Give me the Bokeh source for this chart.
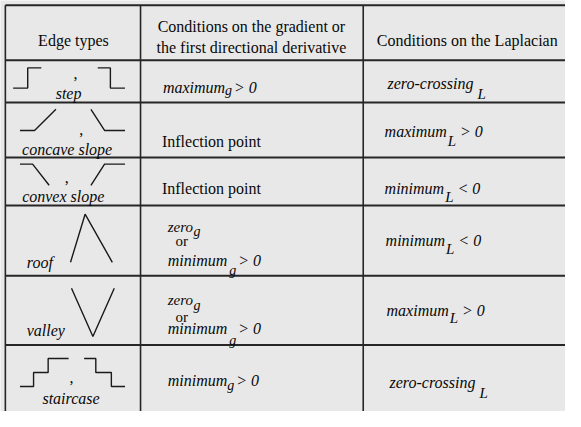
from bokeh.plotting import figure
from bokeh.models import Range1d
from bokeh.embed import file_html
from bokeh.resources import INLINE
from bokeh.core.properties import value

# ---------------- data ----------------
header_edge = "Edge types"
header_gradient = ["Conditions on the gradient or", "the first directional derivative"]
header_laplacian = "Conditions on the Laplacian"

edge_types = ["step", "concave slope", "convex slope", "roof", "valley", "staircase"]
edge_is_pair = [True, True, True, False, False, True]

gradient_alt = ["", "", "", "zero", "zero", ""]
gradient_alt_sub = ["", "", "", "g", "g", ""]
gradient_joiner = "or"
gradient_main = ["maximum", "Inflection point", "Inflection point", "minimum", "minimum", "minimum"]
gradient_sub = ["g", "", "", "g", "g", "g"]
gradient_rel = ["> 0", "", "", "> 0", "> 0", "> 0"]

laplacian_main = ["zero-crossing", "maximum", "minimum", "minimum", "maximum", "zero-crossing"]
laplacian_sub = ["L", "L", "L", "L", "L", "L"]
laplacian_rel = ["", "> 0", "< 0", "< 0", "> 0", ""]

# edge profile sketches: polylines as (x, level) with level 0 = low, 1 = high
edge_profiles = [
    [([13, 28, 28, 42], [0, 0, 1, 1]), ([100, 113, 113, 128], [1, 1, 0, 0])],
    [([20, 35, 57], [0, 0, 1]), ([93, 107, 128], [1, 0, 0])],
    [([20, 33, 50], [1, 1, 0]), ([93, 107, 128], [0, 1, 1])],
    [([72, 87, 115], [0, 1, 0])],
    [([73, 95, 117], [1, 0, 1])],
    [([20, 34, 34, 49, 49, 70], [0, 0, 0.5, 0.5, 1, 1]),
     ([86, 98, 98, 114, 114, 128], [1, 1, 0.5, 0.5, 0, 0])],
]

# ---------------- layout (reference pixel space) ----------------
W, H = 581, 427
PW, PH = 565, 411
SX, SY = PW / W, PH / H
FS = (SX + SY) / 2
FONT = "Liberation Serif"
INK = "#080808"
LINE = "#262626"
BG = "#e8e8e8"

row_lines = [5, 62, 106, 163, 213, 286, 358]
col_lines = [5, 144, 373]

icon_low = [91, 135, 192, 272, 349, 401]
icon_high = [70, 113, 170, 222, 299, 372]
comma_pos = [(77, 76), (83, 134), (68, 184), None, None, (73, 392)]
label_pos = [(70, 97, "center"), (68.5, 155, "center"), (64.5, 204, "center"),
             (27, 272, "left"), (27, 343, "left"), (72.5, 413, "center")]

g_x = [167, 166, 166, 172, 172, 172]
g_base = [90, 146, 195, 270, 341, 395]
g_subdy = [4, 0, 0, 10, 12, 5]
g_subgap = [0, 0, 0, 2, 2, 0]
g_alt_base = [0, 0, 0, 235, 311, 0]
g_alt_subdy = [0, 0, 0, 5, 6, 0]
g_or_base = [0, 0, 0, 250, 329, 0]

l_x = [398, 395, 395, 396, 397, 400]
l_base = [86, 136, 195, 249, 322, 397]
l_subdy = [11, 10, 9, 9, 8, 11]
l_gap = [3, 1, 1, 1, 1, 3]

W_IT = {'m': 722, 'a': 500, 'x': 444, 'i': 278, 'u': 500, 'n': 500, 'z': 389, 'e': 444,
        'r': 389, 'o': 500, '-': 333, 'c': 444, 's': 389, 'g': 500, 'L': 556, ' ': 250,
        '>': 675, '<': 675, '0': 500}


def px(size):
    return int(round(size * FS))


def tw(s, size):
    return sum(W_IT.get(c, 500) for c in s) / 1000.0 * px(size) / SX


p = figure(width=PW, height=PH, output_backend="svg", toolbar_location=None,
           x_range=Range1d(0, W), y_range=Range1d(H, 0),
           x_axis_location=None, y_axis_location=None, min_border=0,
           background_fill_color=BG, border_fill_color=BG, outline_line_color=None)
p.grid.visible = False


def put(x, y, s, size, style="normal", align="left"):
    p.text(x=[x], y=[y], text=[s], text_font=value(FONT),
           text_font_size="%dpx" % px(size), text_font_style=style,
           text_align=align, text_baseline="alphabetic", text_color=INK)


# grid lines
p.segment(x0=[col_lines[0]] * len(row_lines), x1=[W] * len(row_lines),
          y0=row_lines, y1=row_lines, line_color=LINE, line_width=2)
p.segment(x0=col_lines, x1=col_lines, y0=[row_lines[0]] * 3, y1=[H] * 3,
          line_color=LINE, line_width=1.6)

# headers
put(75, 42, header_edge, 17, align="center")
put(258, 27, header_gradient[0], 17, align="center")
put(258, 49, header_gradient[1], 17, align="center")
put(387, 42, header_laplacian, 17)

for i in range(6):
    # edge sketches
    lo, hi = icon_low[i], icon_high[i]
    for xs, lv in edge_profiles[i]:
        ys = [lo + (hi - lo) * v for v in lv]
        p.line(x=xs, y=ys, line_color="#1a1a1a", line_width=1.4)
    if edge_is_pair[i]:
        cx, cy = comma_pos[i]
        put(cx, cy, ",", 17, align="center")
    lx, ly, la = label_pos[i]
    put(lx, ly, edge_types[i], 17, style="italic", align=la)

    # gradient column
    if gradient_alt[i]:
        ab = g_alt_base[i]
        put(172, ab, gradient_alt[i], 16, style="italic")
        put(172 + tw(gradient_alt[i], 16), ab + g_alt_subdy[i], gradient_alt_sub[i], 14, style="italic")
        put(180, g_or_base[i], gradient_joiner, 16)
    if gradient_sub[i]:
        x0 = g_x[i]
        put(x0, g_base[i], gradient_main[i], 17, style="italic")
        xs = x0 + tw(gradient_main[i], 17) + g_subgap[i]
        put(xs, g_base[i] + g_subdy[i], gradient_sub[i], 14, style="italic")
        xr = xs + tw(gradient_sub[i], 14) + 2
        put(xr, g_base[i], gradient_rel[i], 17, style="italic")
    else:
        put(g_x[i], g_base[i], gradient_main[i], 17)

    # laplacian column
    x0 = l_x[i]
    put(x0, l_base[i], laplacian_main[i], 17, style="italic")
    xs = x0 + tw(laplacian_main[i], 17) + l_gap[i]
    put(xs, l_base[i] + l_subdy[i], laplacian_sub[i], 15, style="italic")
    if laplacian_rel[i]:
        xr = xs + tw(laplacian_sub[i], 15) + 4
        put(xr, l_base[i], laplacian_rel[i], 17, style="italic")

open("out.html", "w").write(file_html(p, INLINE))
